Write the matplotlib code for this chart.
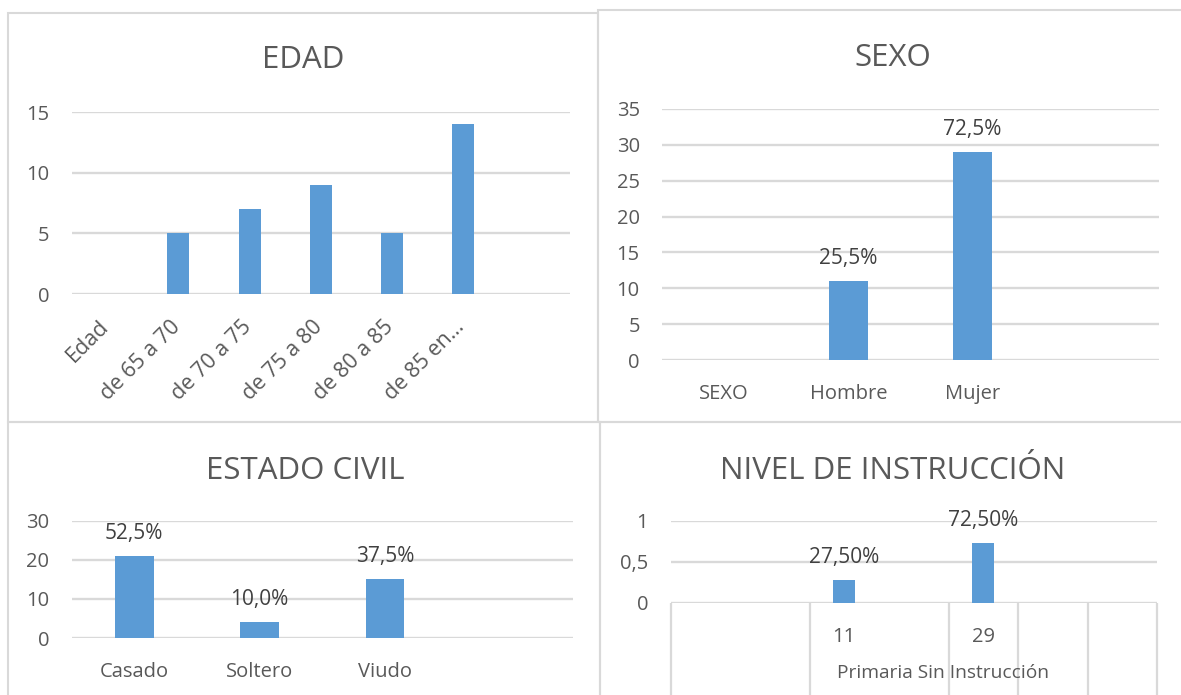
import numpy as np
import matplotlib.pyplot as plt
from matplotlib.patches import Rectangle
import matplotlib.transforms as mtransforms

plt.rcParams['font.family'] = ['Open Sans', 'DejaVu Sans']

AZUL = '#5B9BD5'
GRIS_TEXTO = '#595959'
GRIS_ETIQ = '#404040'
GRIS_LINEA = '#D9D9D9'

# --- datos ---
edad_cat = ['Edad', 'de 65 a 70', 'de 70 a 75', 'de 75 a 80', 'de 80 a 85', 'de 85 en…', '']
edad_val = [0, 5, 7, 9, 5, 14, 0]

sexo_cat = ['SEXO', 'Hombre', 'Mujer', '']
sexo_val = [0, 11, 29, 0]
sexo_pct = ['', '25,5%', '72,5%', '']

civil_cat = ['Casado', 'Soltero', 'Viudo', '']
civil_val = [21, 4, 15, 0]
civil_pct = ['52,5%', '10,0%', '37,5%', '']

nivel_cat = ['', '', '11', '', '29', '', '']
nivel_val = [0, 0, 0.275, 0, 0.725, 0, 0]
nivel_pct = ['', '', '27,50%', '', '72,50%', '', '']
nivel_ytick = ['0', '0,5', '1']
nivel_grupo = 'Primaria Sin Instrucción'
nivel_div = [0, 2, 4, 5, 6, 7]

W, H = 1181, 695
fig = plt.figure(figsize=(W / 100, H / 100), dpi=100)


def caja(x0, y0, x1, y1):
    # coordenadas en pixeles, y medida desde arriba
    return [x0 / W, 1 - y1 / H, (x1 - x0) / W, (y1 - y0) / H]


def marco(x0, y0, x1, y1):
    r = Rectangle((x0 / W, 1 - y1 / H), (x1 - x0) / W, (y1 - y0) / H,
                  transform=fig.transFigure, fill=False,
                  edgecolor=GRIS_LINEA, lw=1.5)
    fig.add_artist(r)


def titulo(x, y, texto):
    fig.text(x / W, 1 - y / H, texto, ha='center', va='baseline',
             fontsize=22.5, color=GRIS_TEXTO)


def grafico(rect, cats, vals, ymax, paso, pct=None):
    ax = fig.add_axes(caja(*rect))
    x = np.arange(len(cats))
    ax.bar(x, vals, width=0.31, color=AZUL, zorder=3)
    ax.set_xlim(-0.5, len(cats) - 0.5)
    ax.set_ylim(0, ymax)
    ax.set_yticks(np.arange(0, ymax + paso / 2, paso))
    ax.yaxis.grid(True, color=GRIS_LINEA, lw=1.7)
    ax.set_axisbelow(True)
    for s in ax.spines.values():
        s.set_visible(False)
    ax.tick_params(length=0, labelsize=14.5, labelcolor=GRIS_TEXTO, pad=16)
    ax.tick_params(axis='x', pad=17)
    ax.set_xticks(x)
    ax.set_xticklabels(cats)
    if pct is not None:
        for xi, v, t in zip(x, vals, pct):
            if t:
                ax.annotate(t, (xi, v), xytext=(0, 12.5), textcoords='offset points',
                            ha='center', va='baseline', fontsize=15, color=GRIS_ETIQ)
    return ax


# marcos de los paneles
marco(8, 13, 598, 422)
marco(598, 10, 1190, 422)
marco(8, 422, 600, 705)
marco(600, 422, 1190, 705)

# EDAD
ax1 = grafico((71.6, 112, 570, 294), edad_cat, edad_val, 15, 5)
ax1.set_xticklabels(edad_cat, rotation=45, ha='right', va='top',
                    rotation_mode='anchor', fontsize=15.5)
ax1.tick_params(axis='x', pad=16)
for lab in ax1.get_xticklabels():
    lab.set_transform(lab.get_transform() + mtransforms.ScaledTranslation(-9 / 100, 0, fig.dpi_scale_trans))
titulo(303, 68, 'EDAD')

# SEXO
ax2 = grafico((662, 109, 1159, 360), sexo_cat, sexo_val, 35, 5, sexo_pct)
titulo(893, 66, 'SEXO')

# ESTADO CIVIL
ax3 = grafico((71.5, 520.7, 573, 638), civil_cat, civil_val, 30, 10, civil_pct)
titulo(305, 479, 'ESTADO CIVIL')

# NIVEL DE INSTRUCCIÓN
ax4 = grafico((670.5, 520.7, 1157, 603), nivel_cat, nivel_val, 1, 0.5, nivel_pct)
ax4.set_yticklabels(nivel_ytick)
ax4.vlines([d - 0.5 for d in nivel_div], -1.3, 0, transform=ax4.get_xaxis_transform(),
           colors=GRIS_LINEA, lw=1.6, clip_on=False)
ax4.text(3.42, -0.85, nivel_grupo, transform=ax4.get_xaxis_transform(),
         ha='center', va='center', fontsize=13.8, color=GRIS_TEXTO)
titulo(893, 479, 'NIVEL DE INSTRUCCIÓN')

fig.savefig('out.png', dpi=100)
